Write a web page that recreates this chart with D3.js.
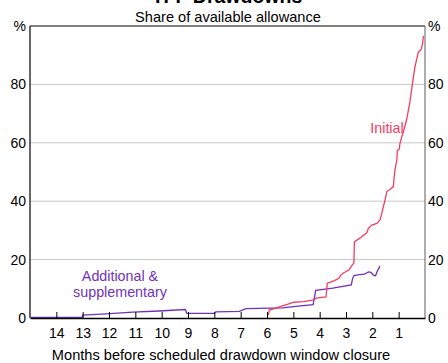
<!DOCTYPE html>
<html>
<head>
<meta charset="utf-8">
<style>
  body { margin: 0; background: #fff; }
  svg { display: block; font-family: "Liberation Sans", Arial, sans-serif; }
</style>
<script src="https://d3js.org/d3.v7.min.js"></script>
</head>
<body>
<script>
// months before closure, share of allowance (%)
const initialMonths = [5.95, 5.91, 5.23, 4.98, 4.62, 4.22, 4.14, 3.76, 3.71, 3.46, 3.27, 3.20, 3.08, 2.89, 2.76, 2.70,
  2.68, 2.53, 2.40, 2.21, 2.15, 2.02, 1.83, 1.71, 1.64, 1.58, 1.52, 1.45, 1.33, 1.20, 1.18, 1.14, 1.07, 1.05,
  0.98, 0.95, 0.88, 0.82, 0.70, 0.63, 0.57, 0.51, 0.44, 0.38, 0.32, 0.25, 0.15, 0.09, 0.06];
const initialValues = [1.0, 2.7, 4.7, 5.4, 5.6, 6.2, 6.8, 7.2, 11.9, 12.7, 13.6, 14.7, 15.5, 16.4, 18.2, 18.8,
  26.1, 27.0, 27.8, 29.2, 30.7, 31.8, 32.4, 33.6, 35.9, 38.1, 40.4, 43.3, 44.0, 45.0, 47.5, 50.7, 54.1, 57.3,
  57.8, 59.8, 62.1, 63.8, 67.8, 71.2, 74.1, 78.1, 82.6, 86.0, 88.5, 91.2, 91.8, 94.1, 96.6];

const addMonths = [15, 13.02, 13.0, 12.1, 11.1, 10.1, 9.1, 9.05, 8.0, 7.95, 7.05, 6.8, 5.4, 4.9, 4.25, 4.15,
  3.5, 2.8, 2.75, 2.7, 2.55, 2.3, 2.15, 2.05, 1.95, 1.88, 1.8, 1.75, 1.72];
const addValues = [0.2, 0.2, 1.0, 1.4, 2.0, 2.4, 2.9, 1.6, 1.6, 2.1, 2.3, 3.2, 3.5, 4.0, 4.6, 9.5,
  10.2, 11.3, 13.5, 14.5, 14.8, 15.0, 15.8, 15.6, 14.6, 14.5, 16.3, 17.0, 17.8];

const xTicks = [14, 13, 12, 11, 10, 9, 8, 7, 6, 5, 4, 3, 2, 1];
const yTicks = [0, 20, 40, 60, 80];

const W = 448, H = 363;
const mLeft = 30, mRight = 425, mTop = 26, mBottom = 318;
const red = "#f43d5e", purple = "#7032bd";

const svg = d3.select("body").append("svg").attr("width", W).attr("height", H);

const x = d3.scaleLinear().domain([15, 0]).range([mLeft, mRight]);
const y = d3.scaleLinear().domain([0, 100]).range([mBottom, mTop]);

// title (cut at top, as in the original) and subtitle
svg.append("text").attr("x", 227).attr("y", 3).attr("text-anchor", "middle")
  .attr("font-size", 19.5).attr("font-weight", "bold").text("TFF Drawdowns");
svg.append("text").attr("x", 228).attr("y", 22).attr("text-anchor", "middle")
  .attr("font-size", 14.6).text("Share of available allowance");

// grid
svg.append("g").selectAll("line").data(yTicks.filter(d => d > 0)).join("line")
  .attr("x1", mLeft).attr("x2", mRight)
  .attr("y1", d => y(d)).attr("y2", d => y(d))
  .attr("stroke", "#c8c8c8").attr("stroke-width", 1);

// frame
svg.append("line").attr("x1", mLeft).attr("x2", mRight).attr("y1", mTop).attr("y2", mTop)
  .attr("stroke", "#000").attr("stroke-width", 1.2);
svg.append("line").attr("x1", mRight).attr("x2", mRight).attr("y1", mTop).attr("y2", mBottom)
  .attr("stroke", "#777").attr("stroke-width", 1.2);
svg.append("line").attr("x1", mLeft).attr("x2", mLeft).attr("y1", mTop).attr("y2", mBottom)
  .attr("stroke", "#000").attr("stroke-width", 1.2);

// y labels both sides
const yLabels = yTicks.concat([100]);
svg.append("g").selectAll("text").data(yLabels).join("text")
  .attr("x", mLeft - 4).attr("y", d => y(d)).attr("dy", "0.35em")
  .attr("text-anchor", "end").attr("font-size", 14)
  .text(d => d === 100 ? "%" : d);
svg.append("g").selectAll("text").data(yLabels).join("text")
  .attr("x", mRight + 3).attr("y", d => y(d)).attr("dy", "0.35em")
  .attr("text-anchor", "start").attr("font-size", 14)
  .text(d => d === 100 ? "%" : d);

// lines
const line = d3.line().x(d => x(d[0])).y(d => y(d[1]));
svg.append("path").datum(addMonths.map((m, i) => [m, addValues[i]]))
  .attr("d", line).attr("fill", "none").attr("stroke", purple).attr("stroke-width", 1.3);
svg.append("path").datum(initialMonths.map((m, i) => [m, initialValues[i]]))
  .attr("d", line).attr("fill", "none").attr("stroke", red).attr("stroke-width", 1.3);

// x axis
const xAxis = d3.axisBottom(x).tickValues(xTicks).tickSizeInner(-6).tickSizeOuter(0).tickPadding(10);
const gx = svg.append("g").attr("transform", `translate(0,${mBottom})`).call(xAxis);
gx.select(".domain").attr("stroke", "#000").attr("stroke-width", 1.3);
gx.selectAll(".tick line").attr("stroke", "#000");
gx.selectAll(".tick text").attr("font-size", 14).attr("font-family", null).attr("fill", "#000");

svg.append("text").attr("x", 221).attr("y", 360).attr("text-anchor", "middle")
  .attr("font-size", 14.6).text("Months before scheduled drawdown window closure");

// series labels
svg.append("text").attr("x", 387).attr("y", 133).attr("text-anchor", "middle")
  .attr("font-size", 14.3).attr("fill", red).text("Initial");
const addLabel = svg.append("text").attr("text-anchor", "middle").attr("font-size", 14.3).attr("fill", purple);
addLabel.append("tspan").attr("x", 120).attr("y", 281).text("Additional &");
addLabel.append("tspan").attr("x", 120).attr("y", 297).text("supplementary");
</script>
</body>
</html>
